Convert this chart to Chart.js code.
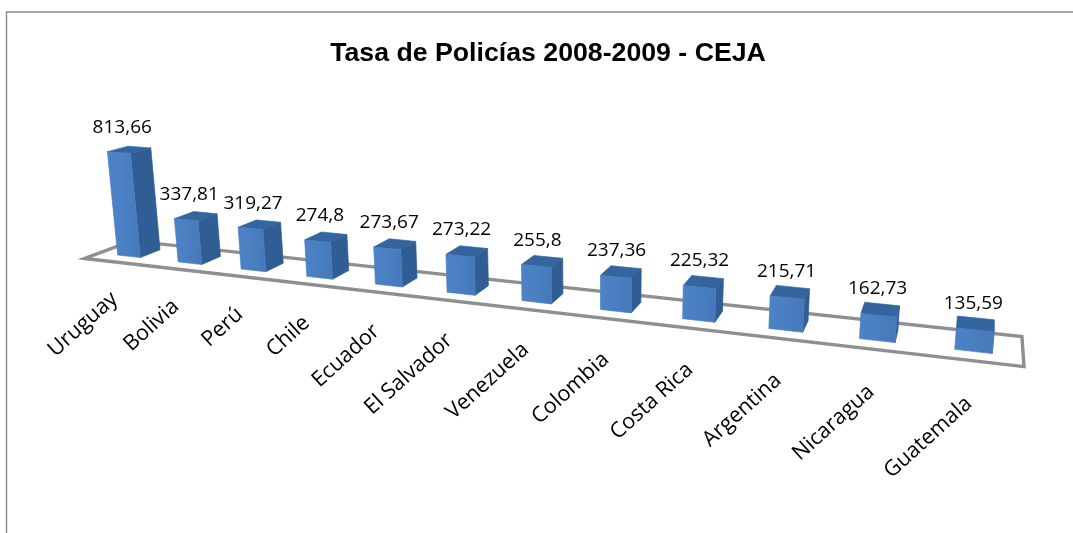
<!DOCTYPE html>
<html><head><meta charset="utf-8">
<style>html,body{margin:0;padding:0;background:#fff}canvas{display:block}</style>
<script src="https://cdn.jsdelivr.net/npm/chart.js@4/dist/chart.umd.min.js"></script>
</head><body><canvas id="c" width="1073" height="533"></canvas>
<script>
const categories = ["Uruguay","Bolivia","Perú","Chile","Ecuador","El Salvador","Venezuela","Colombia","Costa Rica","Argentina","Nicaragua","Guatemala"];
const tasa = [813.66,337.81,319.27,274.8,273.67,273.22,255.8,237.36,225.32,215.71,162.73,135.59];
const valueLabels = ["813,66","337,81","319,27","274,8","273,67","273,22","255,8","237,36","225,32","215,71","162,73","135,59"];
const chartTitle = "Tasa de Policías 2008-2009 - CEJA";
const frontColor = "#4a7fc1", sideColor = "#2f5d94", topColor = "#35659e", floorColor = "#8f8f8f", frameColor = "#8c8c8c";
const labelFont = '19px "Open Sans"', tickFont = '21.5px "Open Sans"';

// Camera: maps (category position, depth, height share) to the page.
function project(i, q, r) {
  const w = 1 - 0.0202 * i + q + r;
  return [(129 + 57.1 * i + 992 * q + 590 * r) / w,
          (256.3 + 1.55 * i - 81 * q + 5000 * r) / w];
}
const DEPTH = 0.0235, FLOOR_FRONT = -0.0163, FLOOR_BACK = 0.0378, RISE = 0.0214 / 813.66 * 900;

function poly(ctx, pts, fill, stroke, lw) {
  ctx.beginPath();
  pts.forEach((p, n) => n ? ctx.lineTo(p[0], p[1]) : ctx.moveTo(p[0], p[1]));
  ctx.closePath();
  if (fill) { ctx.fillStyle = fill; ctx.fill(); }
  ctx.strokeStyle = stroke || fill; ctx.lineWidth = lw || 0.7; ctx.lineJoin = 'miter';
  ctx.stroke();
}

const scene = {
  id: 'scene',
  beforeDraw(chart) {
    const ctx = chart.ctx;
    ctx.save();
    ctx.fillStyle = '#fff'; ctx.fillRect(0, 0, chart.width, chart.height);
    ctx.strokeStyle = frameColor; ctx.lineWidth = 1.5;
    ctx.beginPath(); ctx.moveTo(6.5, 533); ctx.lineTo(6.5, 12); ctx.lineTo(1073, 12); ctx.stroke();
    ctx.restore();
  },
  beforeDatasetDraw(chart, args) {
    const ctx = chart.ctx, xs = chart.scales.x, ys = chart.scales.y;
    const step = xs.width / categories.length;
    const toI = px => (px - xs.left) / step - 0.5;
    const toR = py => -(ys.bottom - py) / ys.height * RISE;
    ctx.save();
    ctx.filter = 'blur(0.5px)';
    const a = project(-0.5, FLOOR_FRONT, 0), b = project(11.5, FLOOR_FRONT, 0),
          c = project(11.5, FLOOR_BACK, 0), d = project(-0.5, FLOOR_BACK, 0);
    ctx.beginPath(); ctx.moveTo(a[0], a[1]); ctx.lineTo(b[0], b[1]); ctx.lineTo(c[0], c[1]); ctx.lineTo(d[0], d[1]); ctx.closePath();
    ctx.strokeStyle = floorColor; ctx.lineWidth = 3.4; ctx.stroke();
    const els = args.meta.data;
    els.forEach((el, n) => {
      const i = toI(el.x), hw = el.width / step / 2, r = toR(el.y);
      const fbl = project(i - hw, 0, 0), fbr = project(i + hw, 0, 0),
            ftl = project(i - hw, 0, r), ftr = project(i + hw, 0, r),
            bbr = project(i + hw, DEPTH, 0), btr = project(i + hw, DEPTH, r),
            btl = project(i - hw, DEPTH, r);
      poly(ctx, [fbr, bbr, btr, ftr], sideColor);
      poly(ctx, [ftl, ftr, btr, btl], topColor);
      const g = ctx.createLinearGradient(fbl[0], 0, fbr[0], 0);
      g.addColorStop(0, '#4d83c6'); g.addColorStop(1, '#4579ba');
      poly(ctx, [fbl, fbr, ftr, ftl], g, frontColor);
    });
    ctx.filter = 'none';
    ctx.fillStyle = '#000'; ctx.font = labelFont; ctx.textAlign = 'center'; ctx.textBaseline = 'middle';
    els.forEach((el, n) => {
      const p = project(toI(el.x), 0.006, toR(el.y));
      ctx.fillText(valueLabels[n], p[0] - 2, p[1] - 23.5);
    });
    ctx.font = tickFont; ctx.textAlign = 'right';
    els.forEach((el, n) => {
      const i = toI(el.x), t = i / 11;
      const p = project(i, FLOOR_FRONT, 0);
      ctx.save();
      ctx.translate(p[0] - 4 * t, p[1] + 34 + 6 * t);
      ctx.rotate(-42 * Math.PI / 180);
      ctx.fillText(xs.getLabelForValue(n), 0, 0);
      ctx.restore();
    });
    ctx.restore();
    return false;
  }
};

new Chart(document.getElementById('c'), {
  type: 'bar',
  data: { labels: categories, datasets: [{ label: 'Tasa', data: tasa, backgroundColor: frontColor, barPercentage: 0.38, categoryPercentage: 1 }] },
  plugins: [scene],
  options: {
    responsive: false, animation: false,
    layout: { padding: { left: 23, top: 38 } },
    plugins: {
      legend: { display: false }, tooltip: { enabled: false },
      title: { display: true, text: chartTitle, color: '#000', font: { family: '"Liberation Sans"', size: 26.7, weight: 'bold' }, padding: 0 }
    },
    scales: {
      x: { display: false },
      y: { display: false, min: 0, max: 900 }
    }
  }
});
</script></body></html>
